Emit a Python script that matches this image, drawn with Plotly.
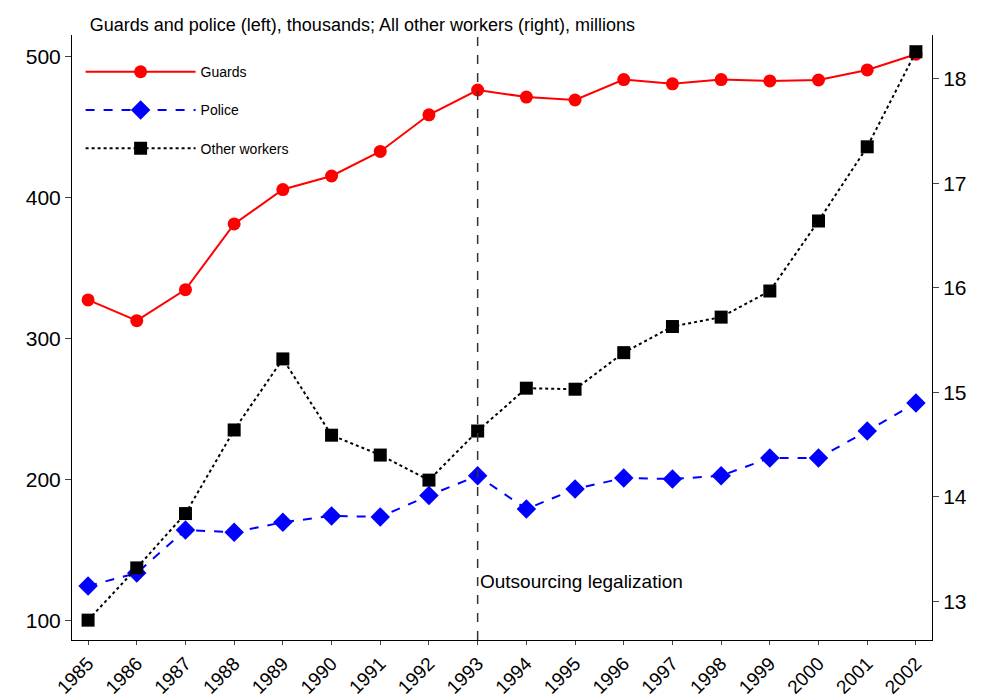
import plotly.graph_objects as go

years = list(range(1985, 2003))
guards = [327.7, 313, 335, 381.6, 406, 415.6, 433, 459, 476.6, 471.6, 469.5, 484, 481, 484, 483, 483.7, 490.8, 502]
police = [124.8, 134, 164.5, 163, 170, 174.5, 173.8, 189, 203, 179.4, 193.6, 201.4, 200.7, 203, 215.6, 215.6, 234.8, 254.6]
other = [12.82, 13.32, 13.84, 14.64, 15.32, 14.59, 14.40, 14.16, 14.63, 15.04, 15.03, 15.38, 15.63, 15.72, 15.97, 16.64, 17.35, 18.26]

fig = go.Figure()
fig.add_trace(go.Scatter(x=years, y=guards, name="Guards", mode="lines+markers", legendgroup="g",
    line=dict(color="red", width=2), marker=dict(symbol="circle", size=13, color="red")))
fig.add_trace(go.Scatter(x=years, y=police, name="Police", mode="lines+markers", legendgroup="p",
    line=dict(color="blue", width=2, dash="dash"), marker=dict(symbol="diamond", size=15, color="blue")))
fig.add_trace(go.Scatter(x=years, y=other, name="Other workers", mode="lines+markers", yaxis="y2", legendgroup="o",
    line=dict(color="black", width=2, dash="dot"), marker=dict(symbol="square", size=13, color="black")))

fig.add_shape(type="line", x0=1993, x1=1993, y0=0, y1=1, yref="paper", xref="x",
    line=dict(color="#333", width=1.5, dash="dash"))
fig.add_annotation(x=1993, y=128, xref="x", yref="y", text="Outsourcing legalization",
    showarrow=False, xanchor="left", font=dict(size=19, color="black"))

ax = dict(ticks="outside", showline=True, linecolor="black", showgrid=False,
          tickfont=dict(size=21), ticklen=6, automargin=False)
fig.update_layout(
    width=985, height=692, plot_bgcolor="white", paper_bgcolor="white",
    margin=dict(l=64, r=61, t=27, b=60),
    font=dict(family="Liberation Sans, Arial", color="black"),
    title=dict(text="Guards and police (left), thousands; All other workers (right), millions",
               x=0.083, xanchor="left", y=0.985, font=dict(size=18), automargin=False),
    xaxis=dict(range=[1984.67, 2002.33], tickvals=years, tickangle=-45,
               **{**ax, "tickfont": dict(size=19), "ticklen": 4}),
    yaxis=dict(range=[86.5, 515.6], tickvals=[100, 200, 300, 400, 500], **ax),
    yaxis2=dict(range=[12.63, 18.42], tickvals=[13, 14, 15, 16, 17, 18], overlaying="y", side="right", **ax),
    legend=dict(x=0.01, y=0.965, xanchor="left", yanchor="top", font=dict(size=14),
                bgcolor="rgba(255,255,255,0)", itemwidth=110, tracegroupgap=17),
    showlegend=True,
)
fig.write_html("out.html")
